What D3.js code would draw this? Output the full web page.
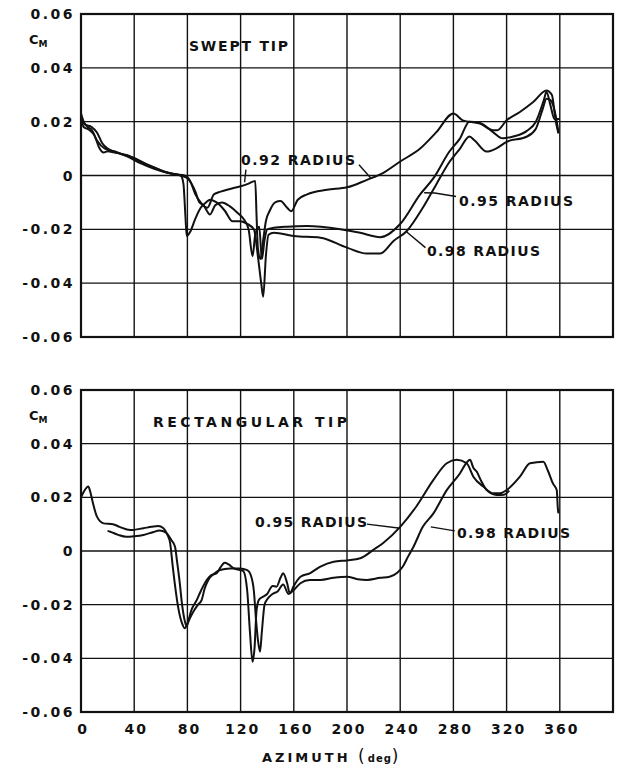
<!DOCTYPE html>
<html>
<head>
<meta charset="utf-8">
<script src="https://cdn.jsdelivr.net/npm/d3@7"></script>
<style>
  body { margin: 0; background: #fff; }
  text { font-family: "DejaVu Sans", sans-serif; font-weight: bold; fill: #111; }
</style>
</head>
<body>
<div id="chart"></div>
<script>
// azimuth ticks and cm ticks
var xTicks = [0, 40, 80, 120, 160, 200, 240, 280, 320, 360];
var yTicks = [0.06, 0.04, 0.02, 0, -0.02, -0.04, -0.06];

// swept tip, [azimuth, cm]
var swept092 = [[0,0.021],[3,0.019],[8,0.018],[12,0.016],[16,0.012],[20,0.010],[30,0.008],[40,0.0065],[50,0.004],[60,0.002],[70,0.0005],[78,0],[82,-0.002],[86,-0.007],[90,-0.010],[95,-0.012],[100,-0.007],[105,-0.006],[112,-0.005],[120,-0.004],[126,-0.003],[131,-0.002],[132,-0.015],[133,-0.027],[135,-0.031],[137,-0.024],[139,-0.017],[142,-0.013],[146,-0.010],[150,-0.0095],[155,-0.012],[158,-0.0133],[163,-0.009],[170,-0.007],[185,-0.0053],[200,-0.0044],[215,-0.0016],[227,0.0009],[240,0.0052],[255,0.010],[267,0.016],[280,0.023],[287,0.0205],[300,0.0193],[310,0.0168],[313,0.0168],[320,0.0205],[330,0.0236],[340,0.0273],[350,0.0316],[354,0.030],[357,0.020],[359,0.0156]];
var swept095 = [[0,0.023],[2,0.020],[5,0.018],[8,0.017],[12,0.013],[18,0.010],[25,0.009],[35,0.007],[45,0.0045],[55,0.0025],[65,0.001],[75,0],[80,-0.001],[83,-0.003],[86,-0.006],[89,-0.010],[92,-0.011],[97,-0.0145],[101,-0.011],[106,-0.010],[112,-0.0115],[118,-0.014],[122,-0.016],[126,-0.020],[129,-0.030],[131,-0.022],[134,-0.019],[136,-0.031],[138,-0.024],[140,-0.020],[145,-0.0194],[155,-0.019],[170,-0.0188],[195,-0.020],[210,-0.0213],[225,-0.0229],[240,-0.018],[255,-0.007],[265,-0.001],[277,0.0089],[285,0.0138],[292,0.020],[300,0.0195],[310,0.016],[317,0.0138],[325,0.0145],[335,0.0165],[342,0.020],[348,0.028],[350,0.031],[353,0.026],[356,0.021],[360,0.021]];
var swept098 = [[0,0.022],[2,0.018],[6,0.017],[10,0.015],[14,0.010],[17,0.0085],[20,0.009],[25,0.0085],[35,0.0075],[45,0.005],[55,0.003],[65,0.001],[75,0],[77,-0.003],[78.5,-0.015],[79.5,-0.0225],[82,-0.021],[86,-0.016],[90,-0.012],[94,-0.010],[97,-0.009],[102,-0.010],[108,-0.013],[114,-0.017],[120,-0.017],[125,-0.018],[130,-0.020],[133,-0.030],[135.5,-0.040],[137,-0.045],[139,-0.030],[141,-0.022],[145,-0.0213],[160,-0.0225],[180,-0.0231],[200,-0.0268],[215,-0.029],[225,-0.029],[235,-0.0243],[245,-0.0206],[257,-0.012],[267,-0.0034],[277,0.005],[285,0.010],[292,0.0145],[296,0.013],[305,0.0089],[312,0.010],[320,0.0125],[335,0.0144],[342,0.0174],[347,0.0245],[350,0.0285],[353,0.028],[357,0.022],[359,0.016]];

// rectangular tip
var rect095 = [[0,0.020],[2,0.022],[5.5,0.024],[7,0.022],[9,0.0178],[12,0.0128],[17,0.0103],[24,0.010],[29,0.009],[37,0.0078],[47,0.0085],[53,0.009],[58,0.0093],[62,0.0085],[65,0.006],[67,0.003],[69,-0.0058],[71,-0.014],[73,-0.0208],[76,-0.027],[78,-0.0288],[80,-0.027],[83,-0.022],[87,-0.0183],[90,-0.015],[94.5,-0.0108],[98,-0.009],[102,-0.0083],[105,-0.006],[108,-0.0044],[111,-0.005],[115,-0.0065],[119.5,-0.0071],[122,-0.0075],[125,-0.015],[127,-0.030],[129,-0.0413],[130.5,-0.036],[132,-0.022],[134,-0.018],[137,-0.017],[140,-0.016],[144,-0.013],[147,-0.0133],[150,-0.010],[152,-0.0083],[155,-0.012],[157,-0.0158],[160,-0.013],[165,-0.0096],[172,-0.0083],[180,-0.0058],[190,-0.004],[200,-0.0035],[210,-0.0027],[220,0.0005],[227,0.0029],[240,0.009],[252,0.0165],[265,0.0265],[275,0.0327],[282.5,0.034],[290,0.0327],[295,0.0277],[302.5,0.024],[310,0.0215],[315,0.0215],[320,0.0227],[330,0.0277],[337.6,0.0327],[347.6,0.0333],[351,0.030],[355,0.025],[357.7,0.0227],[358.5,0.016],[359,0.014]];
var rect098 = [[20,0.0075],[22,0.0072],[28,0.006],[34,0.0053],[40,0.0055],[47,0.006],[54,0.007],[59,0.0076],[64,0.0068],[68,0.004],[70.7,0.0016],[72,-0.003],[74,-0.0108],[76,-0.020],[78,-0.026],[79.4,-0.028],[81,-0.026],[84,-0.023],[88,-0.020],[90.7,-0.0183],[93,-0.014],[95.7,-0.0108],[100,-0.0085],[104.5,-0.0071],[112,-0.0065],[119.5,-0.0065],[125,-0.0071],[128,-0.0095],[130,-0.015],[131.5,-0.025],[133,-0.033],[134.6,-0.0375],[136,-0.030],[138,-0.020],[140,-0.018],[144,-0.016],[148,-0.015],[152,-0.0125],[156,-0.016],[160,-0.0145],[165,-0.012],[172,-0.0108],[180,-0.0108],[190,-0.010],[200,-0.0096],[208,-0.0105],[215,-0.0108],[225,-0.010],[232,-0.0096],[238,-0.008],[242,-0.0058],[246,-0.002],[250,0.0016],[257,0.009],[265,0.014],[275,0.0227],[285,0.029],[290,0.033],[292.5,0.034],[295,0.031],[297.5,0.0296],[301,0.026],[305,0.0227],[312.5,0.0209],[318,0.021],[322,0.0225]];

var width = 618, height = 769;
var svg = d3.select("#chart").append("svg")
  .attr("width", width).attr("height", height);

var x = d3.scaleLinear().domain([0, 400]).range([81, 613]);

function fmt(v) {
  if (v === 0) return "0";
  return (v < 0 ? "-" : "") + Math.abs(v).toFixed(2);
}

function panel(top, bottom, title, titleX, titleLen, series, labels) {
  var y = d3.scaleLinear().domain([-0.06, 0.06]).range([bottom, top]);
  var g = svg.append("g");

  // grid
  g.selectAll(".vg").data(xTicks.concat([400])).enter().append("line")
    .attr("x1", d => x(d)).attr("x2", d => x(d))
    .attr("y1", top).attr("y2", bottom)
    .attr("stroke", "#111").attr("stroke-width", 1.4);
  g.selectAll(".hg").data(yTicks).enter().append("line")
    .attr("x1", x(0)).attr("x2", x(400))
    .attr("y1", d => y(d)).attr("y2", d => y(d))
    .attr("stroke", "#111").attr("stroke-width", 1.4);
  g.append("rect").attr("x", x(0)).attr("y", top)
    .attr("width", x(400) - x(0)).attr("height", bottom - top)
    .attr("fill", "none").attr("stroke", "#111").attr("stroke-width", 2.2);

  // y tick labels
  g.selectAll(".yl").data(yTicks).enter().append("text")
    .attr("x", 75).attr("y", d => y(d) + 5)
    .attr("text-anchor", "end")
    .style("font-size", "14px").style("letter-spacing", "2.5px")
    .text(fmt);

  var cm = g.append("text").attr("x", 29).attr("y", y(0.05) + 3)
    .style("font-size", "13px");
  cm.append("tspan").text("C");
  cm.append("tspan").attr("dy", 3).style("font-size", "9px").text("M");

  g.append("text").attr("x", titleX).attr("y", top + 37)
    .attr("textLength", titleLen).attr("lengthAdjust", "spacing")
    .style("font-size", "14px").text(title);

  var line = d3.line().x(d => x(d[0])).y(d => y(d[1])).curve(d3.curveMonotoneX);
  series.forEach(function(s) {
    g.append("path").attr("d", line(s)).attr("fill", "none")
      .attr("stroke", "#111").attr("stroke-width", 2).attr("stroke-linejoin", "round");
  });

  labels.forEach(function(l) {
    g.append("text").attr("x", l.tx).attr("y", y(l.ty))
      .attr("textLength", l.len).attr("lengthAdjust", "spacing")
      .style("font-size", "14px").text(l.text);
    l.lead.forEach(function(p) {
      g.append("path")
        .attr("d", d3.line()(p.map(q => [x(q[0]), y(q[1])])))
        .attr("fill", "none").attr("stroke", "#111").attr("stroke-width", 1.4);
    });
  });
  return y;
}

panel(14, 337, "SWEPT TIP", 189, 99, [swept092, swept095, swept098], [
  { text: "0.92 RADIUS", tx: 241, ty: 0.0038, len: 114,
    lead: [[[124, 0.0022], [123, -0.0025]], [[209, 0.0040], [218, -0.0010]]] },
  { text: "0.95 RADIUS", tx: 459, ty: -0.0114, len: 114,
    lead: [[[282, -0.0078], [266, -0.0065], [258, -0.0064]]] },
  { text: "0.98 RADIUS", tx: 427, ty: -0.0298, len: 113,
    lead: [[[259, -0.0268], [244, -0.0206]]] }
]);

panel(390, 712, "RECTANGULAR TIP", 153, 194, [rect095, rect098], [
  { text: "0.95 RADIUS", tx: 255, ty: 0.0090, len: 112,
    lead: [[[215, 0.0100], [240, 0.0085]]] },
  { text: "0.98 RADIUS", tx: 457, ty: 0.0050, len: 113,
    lead: [[[281, 0.0075], [263, 0.0090]]] }
]);

// x tick labels under bottom panel
svg.selectAll(".xl").data(xTicks).enter().append("text")
  .attr("x", d => x(d) + 2).attr("y", 734)
  .attr("text-anchor", "middle")
  .style("font-size", "14px").style("letter-spacing", "2px")
  .text(d => d);

var xt = svg.append("text").attr("x", 262).attr("y", 762)
  .style("font-size", "13px").style("letter-spacing", "3px");
xt.append("tspan").text("AZIMUTH ");
xt.append("tspan").style("font-size", "17px").style("font-weight", "normal").text("(");
xt.append("tspan").style("font-size", "10px").style("letter-spacing", "1px").text("deg");
xt.append("tspan").style("font-size", "17px").style("font-weight", "normal").text(")");
</script>
</body>
</html>
